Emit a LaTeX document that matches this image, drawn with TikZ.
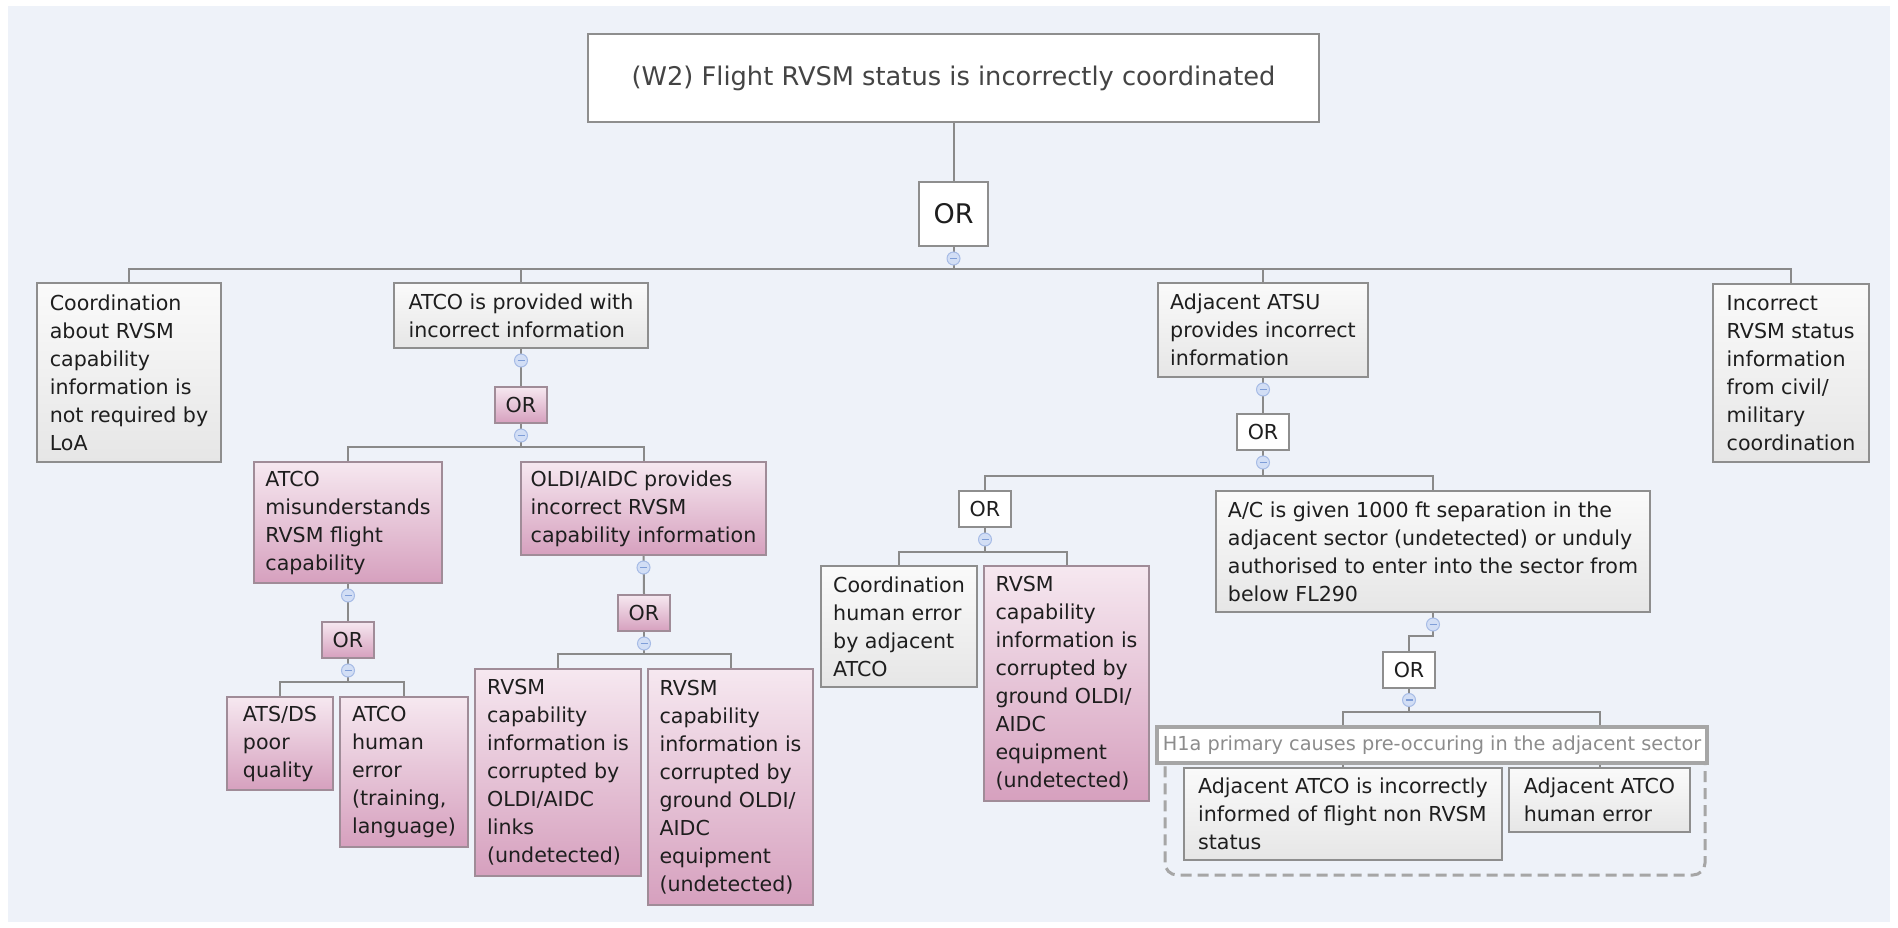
\documentclass[tikz,border=0pt]{standalone}
\usepackage{fontspec}
\setmainfont{DejaVu Sans}
\usetikzlibrary{calc}

\definecolor{canvas}{HTML}{EEF2F9}
\definecolor{edge}{HTML}{8A8A8A}
\definecolor{boxline}{HTML}{8E8E8E}
\definecolor{pinkline}{HTML}{A08C98}
\definecolor{greytop}{HTML}{FAFAFA}
\definecolor{greybot}{HTML}{E6E6E6}
\definecolor{pinktop}{HTML}{F6E8F0}
\definecolor{pinkbot}{HTML}{D6A0BE}
\definecolor{inktext}{HTML}{1E1E1E}
\definecolor{titletext}{HTML}{444444}
\definecolor{markfill}{HTML}{D2DEF5}
\definecolor{markline}{HTML}{A7BCE6}
\definecolor{markdash}{HTML}{7F9ED8}
\definecolor{grpline}{HTML}{A6A6A6}
\definecolor{grptext}{HTML}{8C8C8C}

\pgfdeclarelayer{canvaslayer}
\pgfdeclarelayer{wires}
\pgfsetlayers{canvaslayer,wires,main}

\tikzset{
  cell/.style={rectangle, line width=2pt, align=left, inner sep=0pt, text=inktext,
    font=\fontsize{20.6}{28}\selectfont},
  wh/.style 2 args={minimum width=#1pt, minimum height=#2pt},
  gbox/.style={cell, draw=boxline, top color=greytop, bottom color=greybot},
  pbox/.style={cell, draw=pinkline, top color=pinktop, bottom color=pinkbot},
  gor/.style={cell, draw=boxline, fill=white, align=center, wh={52}{36}},
  por/.style={pbox, align=center, wh={52}{36}},
  wire/.style={draw=edge, line width=2pt},
  knob/.style={circle, minimum size=13pt, inner sep=0pt, fill=markfill, draw=markline,
    line width=1pt,
    path picture={\draw[markdash, line width=1.3pt]
      ([xshift=-3.5pt]path picture bounding box.center) --
      ([xshift=3.5pt]path picture bounding box.center);}},
  grpframe/.style={rectangle, draw=grpline, line width=3pt, rounded corners=12pt,
    dash pattern=on 11pt off 6pt},
  grplabel/.style={rectangle, fill=white, draw=grpline, line width=3.5pt, inner sep=0pt,
    text=grptext, font=\fontsize{19.3}{24}\selectfont},
}

\begin{document}
\begin{tikzpicture}[x=1pt, y=-1pt]

% canvas
\begin{pgfonlayer}{canvaslayer}
  \fill[white] (0,0) rectangle (1898,928);
  \fill[canvas] (8,6) rectangle (1890,922);
\end{pgfonlayer}

% top event
\node[cell, draw=boxline, fill=white, align=center, wh={731}{88}, text=titletext,
  font=\fontsize{25.7}{30}\selectfont] (top) at (953.5,78)
  {(W2) Flight RVSM status is incorrectly coordinated};
\node[gor, wh={69}{64}, font=\fontsize{27}{30}\selectfont] (rootOR) at (953.5,214) {OR};

% first level
\node[gbox, wh={184}{179}] (coord) at (129,372.5)
  {Coordination\\about RVSM\\capability\\information is\\not required by\\LoA};
\node[gbox, wh={254}{65}] (atcoProv) at (521,315.5)
  {ATCO is provided with\\incorrect information};
\node[gbox, wh={210}{94}] (adjAtsu) at (1263,330)
  {Adjacent ATSU\\provides incorrect\\information};
\node[gbox, wh={156}{178}] (incorrect) at (1791,373)
  {Incorrect\\RVSM status\\information\\from civil/\\military\\coordination};

% ATCO is provided with incorrect information
\node[por] (orA) at (521,405) {OR};
\node[pbox, wh={188}{121}] (atcoMis) at (348,522.5)
  {ATCO\\misunderstands\\RVSM flight\\capability};
\node[pbox, wh={245}{93}] (oldi) at (643.5,508.5)
  {OLDI/AIDC provides\\incorrect RVSM\\capability information};
\node[por] (orB) at (348,640) {OR};
\node[pbox, wh={106}{93}] (atsds) at (280,743.5) {ATS/DS\\poor\\quality};
\node[pbox, wh={128}{150}] (atcoHum) at (404,772)
  {ATCO\\human\\error\\(training,\\language)};
\node[por] (orC) at (644,613) {OR};
\node[pbox, wh={166}{207}] (rvsmLinks) at (558,772.5)
  {RVSM\\capability\\information is\\corrupted by\\OLDI/AIDC\\links\\(undetected)};
\node[pbox, wh={165}{236}] (rvsmGround) at (730.5,787)
  {RVSM\\capability\\information is\\corrupted by\\ground OLDI/\\AIDC\\equipment\\(undetected)};

% Adjacent ATSU provides incorrect information
\node[gor] (orD) at (1263,432) {OR};
\node[gor] (orE) at (985,509) {OR};
\node[gbox, wh={156}{121}] (coordHum) at (899,626.5)
  {Coordination\\human error\\by adjacent\\ATCO};
\node[pbox, wh={165}{235}] (rvsmGround2) at (1066.5,683.5)
  {RVSM\\capability\\information is\\corrupted by\\ground OLDI/\\AIDC\\equipment\\(undetected)};
\node[gbox, wh={434}{121}] (ac) at (1433,551.5)
  {A/C is given 1000 ft separation in the\\adjacent sector (undetected) or unduly\\authorised to enter into the sector from\\below FL290};
\node[gor] (orF) at (1409,669.5) {OR};

% H1a group
\node[grpframe, wh={540}{130}] (grp) at (1435,810) {};
\node[gbox, wh={318}{92}] (adjInf) at (1343,814)
  {Adjacent ATCO is incorrectly\\informed of flight non RVSM\\status};
\node[gbox, wh={181}{64}] (adjHum) at (1599.5,800)
  {Adjacent ATCO\\human error};
\node[grplabel, wh={550}{36}] (h1a) at (1432,745)
  {H1a primary causes pre-occuring in the adjacent sector};

% connectors
\begin{pgfonlayer}{wires}
  \draw[wire] (top.south) -- (rootOR.north);
  \foreach \c in {coord,atcoProv,adjAtsu,incorrect}
    \draw[wire] (rootOR.south) -- ++(0,22) -| (\c.north);
  \draw[wire] (atcoProv.south) -- (orA.north);
  \foreach \c in {atcoMis,oldi}
    \draw[wire] (orA.south) -- ++(0,23) -| (\c.north);
  \draw[wire] (atcoMis.south) -- (orB.north);
  \foreach \c in {atsds,atcoHum}
    \draw[wire] (orB.south) -- ++(0,23) -| (\c.north);
  \draw[wire] (oldi.south) -- (orC.north);
  \foreach \c in {rvsmLinks,rvsmGround}
    \draw[wire] (orC.south) -- ++(0,22) -| (\c.north);
  \draw[wire] (adjAtsu.south) -- (orD.north);
  \foreach \c in {orE,ac}
    \draw[wire] (orD.south) -- ++(0,25) -| (\c.north);
  \foreach \c in {coordHum,rvsmGround2}
    \draw[wire] (orE.south) -- ++(0,24) -| (\c.north);
  \draw[wire] (ac.south) -- ++(0,23) -| (orF.north);
  \foreach \c in {adjInf,adjHum}
    \draw[wire] (orF.south) -- ++(0,23) -| (\c.north);
\end{pgfonlayer}

% collapse knobs under expanded nodes
\foreach \n in {rootOR,atcoProv,orA,atcoMis,orB,oldi,orC,adjAtsu,orD,orE,ac,orF}
  \node[knob] (k-\n) at ($(\n.south)+(0,11.5)$) {};

\end{tikzpicture}
\end{document}
